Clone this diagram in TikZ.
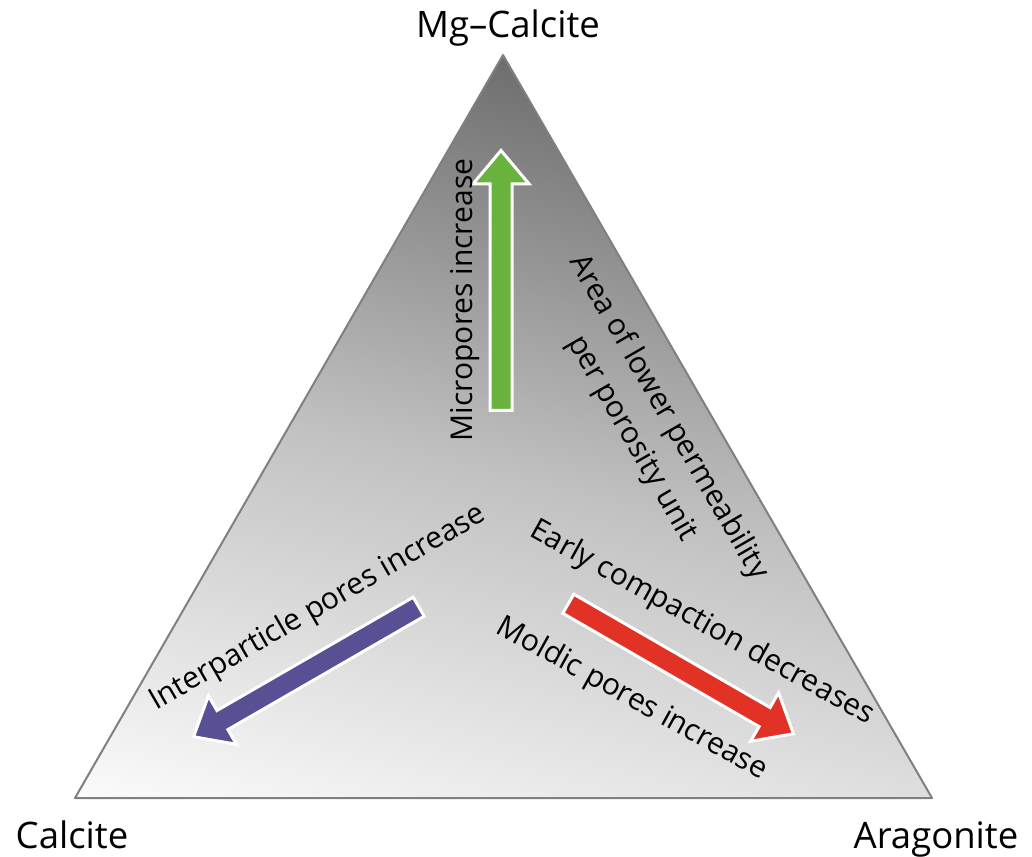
\documentclass[tikz,border=0pt]{standalone}
\usepackage{fontspec}
\setmainfont{Open Sans}
\usepackage{tikz}
\usetikzlibrary{shapes.arrows}
\definecolor{microgreen}{RGB}{106,178,62}
\definecolor{interblue}{RGB}{88,80,148}
\definecolor{moldred}{RGB}{226,50,38}
\definecolor{edgegray}{RGB}{128,128,128}
\definecolor{shadetop}{RGB}{110,110,110}
\definecolor{shademid}{RGB}{194,194,194}
\definecolor{shadebot}{RGB}{251,251,251}

\begin{document}
\begin{tikzpicture}[x=1pt,y=1pt]
  \tikzstyle{corner}=[font=\fontsize{36.5}{44}\selectfont, anchor=base, inner sep=0]
  \tikzstyle{trend}=[font=\fontsize{30}{42}\selectfont, anchor=base, inner sep=0]
  \tikzstyle{fatarrow}=[single arrow, draw=white, line width=3, minimum height=260, minimum width=53, inner sep=9.5, single arrow head extend=17, single arrow tip angle=80, anchor=tail]
  \useasboundingbox (0,0) rectangle (1032,856);
  \coordinate (apex) at (503,801);
  \coordinate (bl) at (75,58);
  \coordinate (br) at (932,58);

  \begin{scope}
    \clip (apex) -- (bl) -- (br) -- cycle;
    \begin{scope}[transform canvas={shift={(75pt,58pt)}, rotate=-14}]
      \shade[top color=shadetop, bottom color=shadebot, middle color=shademid] (-10,0) rectangle (840,822);
    \end{scope}
  \end{scope}
  \draw[edgegray, line width=2, line join=round] (apex) -- (bl) -- (br) -- cycle;

  \node[fatarrow, fill=microgreen, rotate=90] (micro) at (501,444) {};
  \node[fatarrow, fill=interblue, rotate=210] (inter) at (420,250) {};
  \node[fatarrow, fill=moldred, rotate=-30] (mold) at (567,253) {};

  \node[corner] (mgc) at (508,818) {Mg–Calcite};
  \node[corner] (cal) at (72,8) {Calcite};
  \node[corner] (ara) at (936,8) {Aragonite};

  \node[trend, rotate=90] (microtxt) at (472,556) {Micropores increase};
  \node[trend, anchor=center, align=center, rotate=-60] (area) at (650,428) {Area of lower permeability\\per porosity unit};
  \node[trend, rotate=30] (intertxt) at (322,241) {Interparticle pores increase};
  \node[trend, rotate=-29] (early) at (698,226) {Early compaction decreases};
  \node[trend, rotate=-29] (moldtxt) at (628,150) {Moldic pores increase};
\end{tikzpicture}
\end{document}
